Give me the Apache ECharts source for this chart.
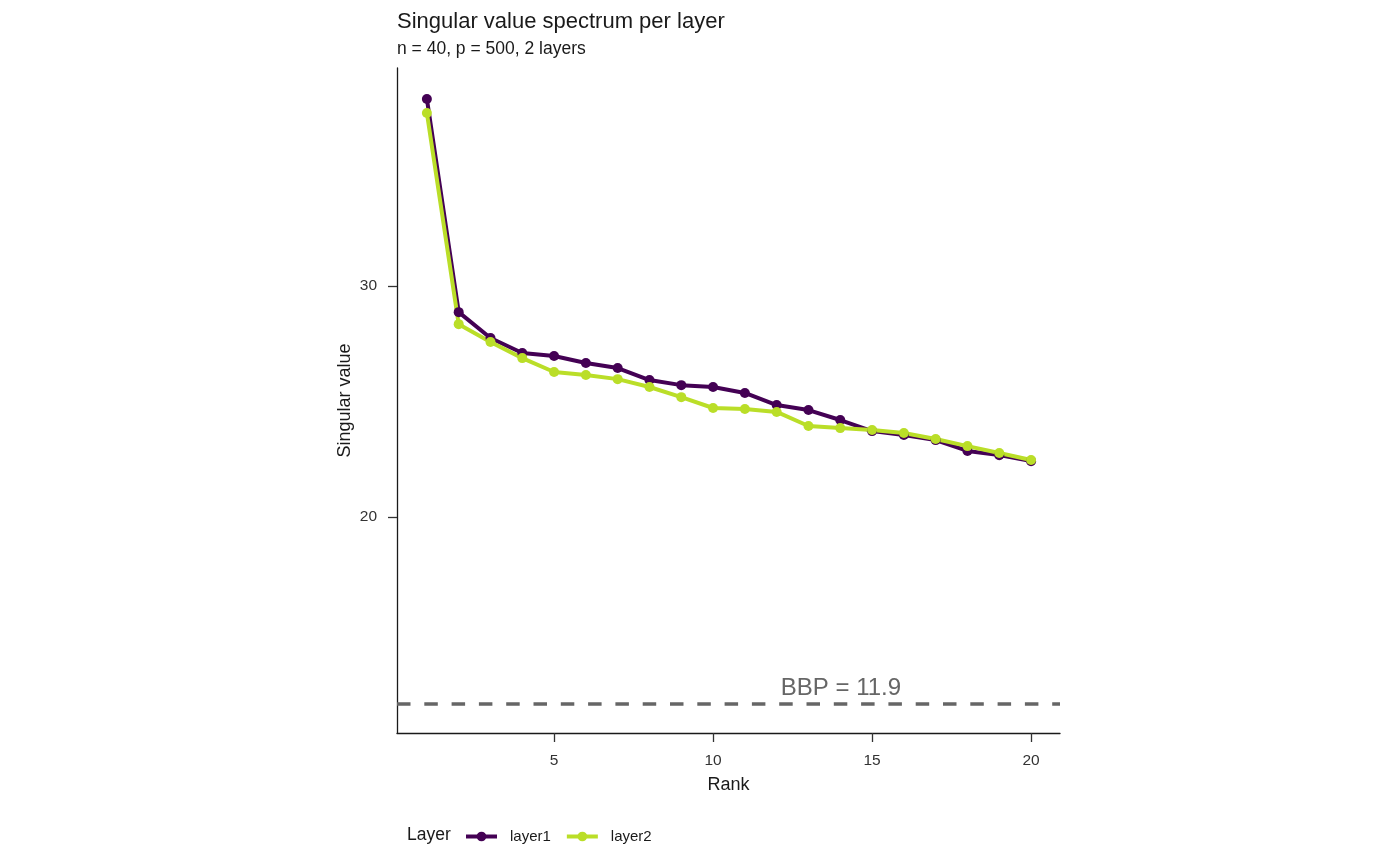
<!DOCTYPE html>
<html>
<head>
<meta charset="utf-8">
<script src="https://cdn.jsdelivr.net/npm/echarts@6/dist/echarts.min.js"></script>
<style>
  html, body { margin: 0; padding: 0; background: #fff; }
  #main { width: 1400px; height: 866px; }
</style>
</head>
<body>
<div id="main"></div>
<script>
// values
var ranks = [1, 2, 3, 4, 5, 6, 7, 8, 9, 10, 11, 12, 13, 14, 15, 16, 17, 18, 19, 20];
var layer1 = [38.1, 28.87, 27.75, 27.1, 26.97, 26.67, 26.45, 25.93, 25.71, 25.63,
              25.37, 24.85, 24.63, 24.2, 23.72, 23.55, 23.33, 22.86, 22.68, 22.42];
var layer2 = [37.49, 28.35, 27.58, 26.88, 26.28, 26.15, 25.97, 25.63, 25.19, 24.72,
              24.68, 24.55, 23.94, 23.85, 23.77, 23.64, 23.38, 23.07, 22.77, 22.47];
var bbp = 11.9;
var xTicks = [5, 10, 15, 20];
var yTicks = [20, 30];

var FONT = 'Liberation Sans';

function pairs(vals) {
    var res = [];
    for (var i = 0; i < ranks.length; i++) {
        res.push([ranks[i], vals[i]]);
    }
    return res;
}

var myChart = echarts.init(document.getElementById('main'));

var option = {
    backgroundColor: '#ffffff',
    animation: false,
    textStyle: { fontFamily: FONT },
    title: {
        text: 'Singular value spectrum per layer',
        subtext: 'n = 40, p = 500, 2 layers',
        left: 392,
        top: 6,
        itemGap: 7,
        textStyle: { fontFamily: FONT, fontSize: 22, fontWeight: 'normal', color: '#1a1a1a' },
        subtextStyle: { fontFamily: FONT, fontSize: 17.5, color: '#1a1a1a' }
    },
    graphic: [{
        type: 'text',
        left: 407,
        top: 826,
        style: { text: 'Layer', fontFamily: FONT, fontSize: 17.5, fill: '#1a1a1a' }
    }],
    legend: {
        left: 464,
        top: 829,
        padding: 0,
        itemWidth: 31,
        itemHeight: 12,
        itemGap: 14,
        lineStyle: { width: 4 },
        textStyle: { fontFamily: FONT, fontSize: 15, color: '#1a1a1a', padding: [0, 0, 0, 8] },
        data: ['layer1', 'layer2']
    },
    grid: {
        left: 397,
        right: 340,
        top: 68,
        bottom: 133,
        containLabel: false
    },
    xAxis: {
        type: 'value',
        min: 0.06,
        max: 20.91,
        name: 'Rank',
        nameLocation: 'middle',
        nameGap: 43,
        nameTextStyle: { fontFamily: FONT, fontSize: 18, color: '#1a1a1a' },
        axisLine: { show: true, onZero: false, lineStyle: { color: '#1a1a1a', width: 1.3 } },
        axisTick: { show: true, length: 9, customValues: xTicks, lineStyle: { color: '#333', width: 1.3 } },
        axisLabel: { customValues: xTicks, margin: 20, fontSize: 15.5, color: '#333', fontFamily: FONT },
        splitLine: { show: false }
    },
    yAxis: {
        type: 'value',
        min: 10.65,
        max: 39.44,
        name: 'Singular value',
        nameLocation: 'middle',
        nameGap: 43,
        nameRotate: 90,
        nameTextStyle: { fontFamily: FONT, fontSize: 18, color: '#1a1a1a' },
        axisLine: { show: true, onZero: false, lineStyle: { color: '#1a1a1a', width: 1.3 } },
        axisTick: { show: true, length: 9, customValues: yTicks, lineStyle: { color: '#333', width: 1.3 } },
        axisLabel: { customValues: yTicks, margin: 20, fontSize: 15.5, color: '#333', fontFamily: FONT },
        splitLine: { show: false }
    },
    series: [
        {
            name: 'layer1',
            type: 'line',
            data: pairs(layer1),
            symbol: 'circle',
            symbolSize: 10,
            lineStyle: { color: '#440154', width: 4 },
            itemStyle: { color: '#440154' },
            markLine: {
                silent: true,
                symbol: 'none',
                lineStyle: { color: '#666666', type: [13.5, 13.8], width: 3.5 },
                label: { show: false },
                data: [{ yAxis: bbp }]
            },
            markPoint: {
                silent: true,
                symbol: 'circle',
                symbolSize: 0,
                data: [{ coord: [14.02, bbp] }],
                label: {
                    show: true,
                    position: 'top',
                    distance: 4,
                    formatter: 'BBP = ' + bbp,
                    fontFamily: FONT,
                    fontSize: 24,
                    color: '#666666'
                }
            }
        },
        {
            name: 'layer2',
            type: 'line',
            data: pairs(layer2),
            symbol: 'circle',
            symbolSize: 10,
            lineStyle: { color: '#BADE28', width: 4 },
            itemStyle: { color: '#BADE28' }
        }
    ]
};

myChart.setOption(option);
window.addEventListener('resize', function () {
    myChart.resize();
});
</script>
</body>
</html>
